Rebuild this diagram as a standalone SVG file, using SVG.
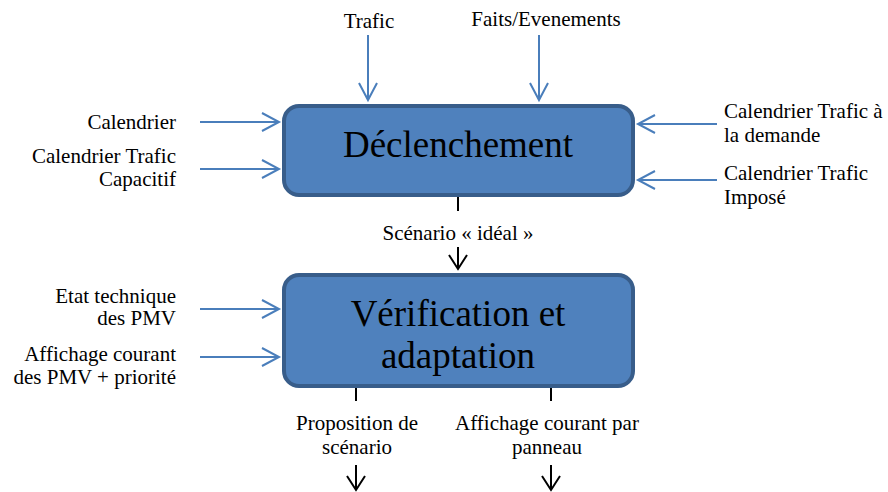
<svg xmlns="http://www.w3.org/2000/svg" width="888" height="492" viewBox="0 0 888 492">
<style>
  text { font-family: "Liberation Serif", Tinos, "Times New Roman", serif; fill: #000; }
  .lbl { font-size: 21px; }
  .box { fill: #4f81bd; stroke: #385d8a; stroke-width: 4; }
  .title { font-size: 37px; text-anchor: middle; }
  .blue { stroke: #4a7ebb; stroke-width: 2; fill: none; marker-end: url(#ah-blue); }
  .black { stroke: #000; stroke-width: 2; fill: none; }
  .blackarr { stroke: #000; stroke-width: 2; fill: none; marker-end: url(#ah-black); }
  .r { text-anchor: end; }
  .m { text-anchor: middle; }
</style>
<defs>
  <marker id="ah-blue" markerUnits="userSpaceOnUse" markerWidth="24" markerHeight="24" viewBox="-20 -12 24 24" refX="0" refY="0" orient="auto" overflow="visible">
    <path d="M-17,-9 L0,0 L-17,9" fill="none" stroke="#4a7ebb" stroke-width="2"/>
  </marker>
  <marker id="ah-black" markerUnits="userSpaceOnUse" markerWidth="24" markerHeight="24" viewBox="-20 -12 24 24" refX="0" refY="0" orient="auto" overflow="visible">
    <path d="M-14,-9 L0,0 L-14,9" fill="none" stroke="#000" stroke-width="2"/>
  </marker>
</defs>

<g id="connectors">
  <line class="blue" x1="368" y1="35" x2="368" y2="100"/>
  <line class="blue" x1="539" y1="35" x2="539" y2="100"/>
  <line class="blue" x1="200" y1="122" x2="279" y2="122"/>
  <line class="blue" x1="200" y1="169" x2="279" y2="169"/>
  <line class="blue" x1="717" y1="124" x2="638" y2="124"/>
  <line class="blue" x1="717" y1="180" x2="638" y2="180"/>
  <line class="black" x1="458" y1="196" x2="458" y2="211"/>
  <line class="blackarr" x1="458" y1="247" x2="458" y2="269"/>
  <line class="blue" x1="200" y1="309" x2="279" y2="309"/>
  <line class="blue" x1="200" y1="357" x2="279" y2="357"/>
  <line class="black" x1="356" y1="387" x2="356" y2="401"/>
  <line class="black" x1="551" y1="387" x2="551" y2="401"/>
  <line class="blackarr" x1="356" y1="465" x2="356" y2="490"/>
  <line class="blackarr" x1="551" y1="465" x2="551" y2="490"/>
</g>

<g id="node-declenchement">
  <rect class="box" x="284" y="106" width="349" height="89" rx="15" ry="15"/>
  <text class="title" x="458" y="157">Déclenchement</text>
</g>

<g id="node-verification">
  <rect class="box" x="284" y="275" width="349" height="111" rx="15" ry="15"/>
  <text class="title" x="458" y="326">Vérification et</text>
  <text class="title" x="458" y="368">adaptation</text>
</g>

<g id="labels">
  <text class="lbl m" x="369" y="28">Trafic</text>
  <text class="lbl m" x="546" y="26">Faits/Evenements</text>
  <text class="lbl r" x="176" y="129">Calendrier</text>
  <text class="lbl r" x="176" y="163">Calendrier Trafic</text>
  <text class="lbl r" x="176" y="186">Capacitif</text>
  <text class="lbl" x="724" y="118">Calendrier Trafic à</text>
  <text class="lbl" x="724" y="142">la demande</text>
  <text class="lbl" x="724" y="180">Calendrier Trafic</text>
  <text class="lbl" x="724" y="204">Imposé</text>
  <text class="lbl m" x="458" y="240">Scénario « idéal »</text>
  <text class="lbl r" x="176" y="303">Etat technique</text>
  <text class="lbl r" x="176" y="325">des PMV</text>
  <text class="lbl r" x="176" y="361">Affichage courant</text>
  <text class="lbl r" x="176" y="384">des PMV + priorité</text>
  <text class="lbl m" x="357" y="430">Proposition de</text>
  <text class="lbl m" x="357" y="454">scénario</text>
  <text class="lbl m" x="547" y="430">Affichage courant par</text>
  <text class="lbl m" x="547" y="454">panneau</text>
</g>
</svg>
